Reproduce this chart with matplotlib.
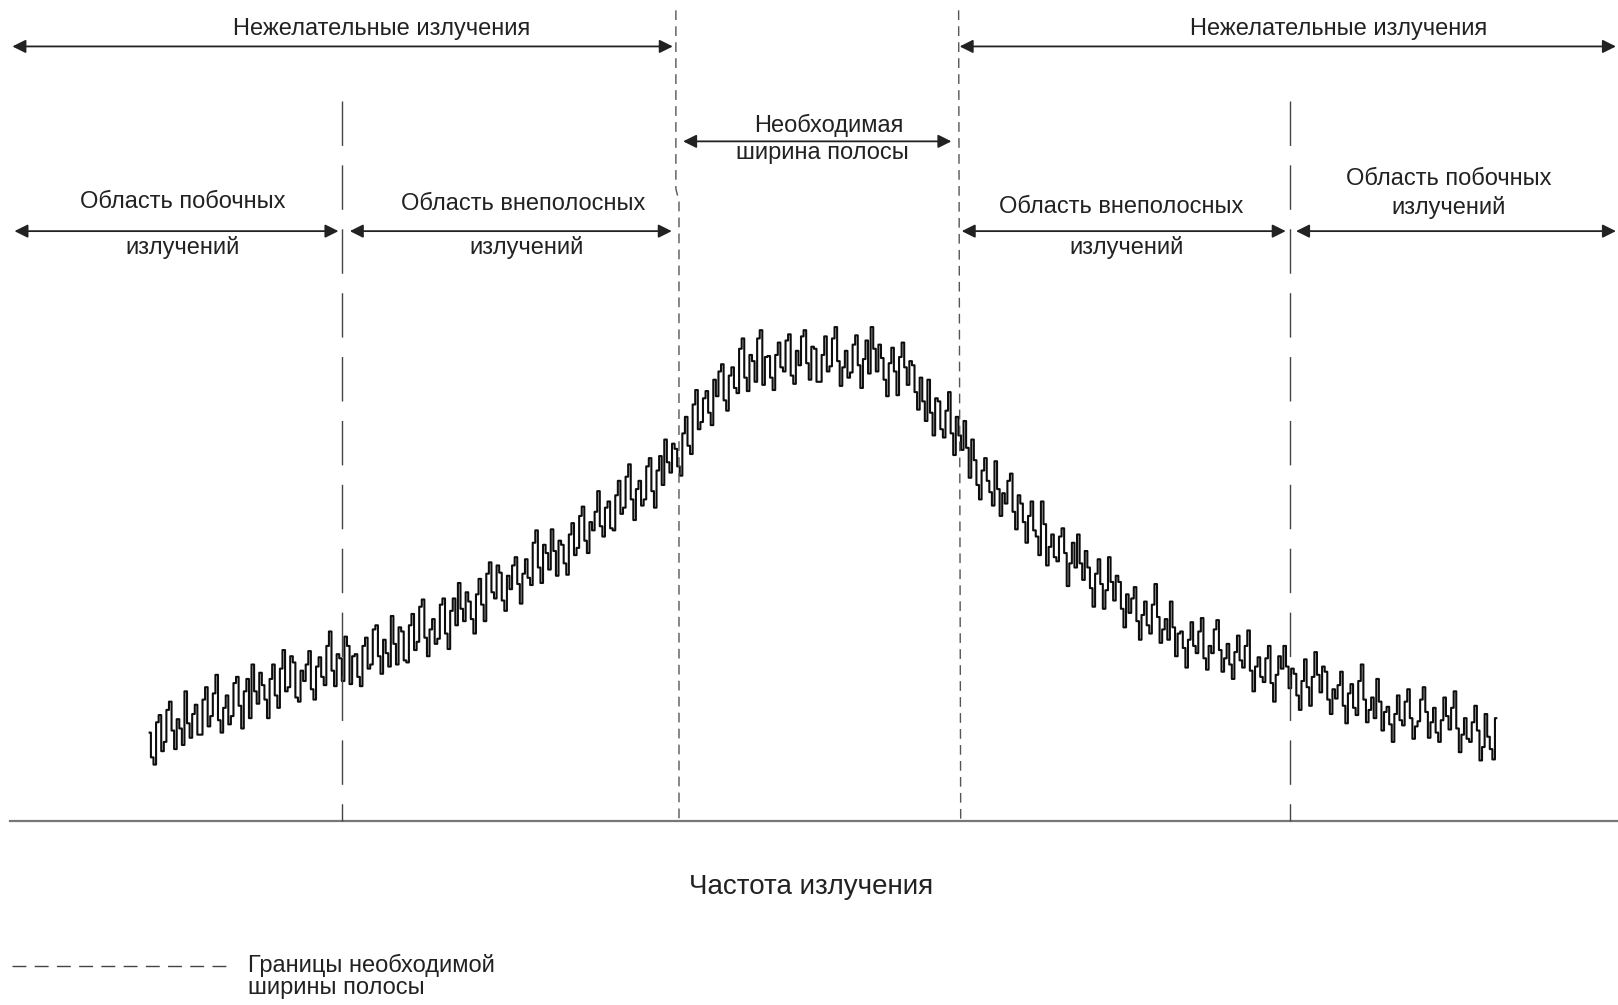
import numpy as np
import matplotlib
matplotlib.use("Agg")
import matplotlib.pyplot as plt

plt.rcParams['font.family'] = ['Liberation Sans', 'DejaVu Sans']

# spectrum samples: frequency grid (px along the axis) and level above the baseline
freq_start, freq_step = 145, 2.5
level = [
    86, 62, 55, 96, 103, 68, 77, 108, 116, 88, 70, 99, 90, 74, 126, 95, 81, 104, 113, 84,
    84, 118, 130, 92, 102, 124, 142, 98, 86, 110, 122, 94, 102, 134, 140, 112, 90, 126, 138, 100,
    152, 126, 114, 144, 132, 118, 100, 138, 152, 122, 110, 148, 166, 126, 130, 160, 154, 120, 116, 146,
    136, 152, 165, 128, 118, 150, 159, 140, 132, 170, 184, 146, 131, 162, 158, 136, 179, 170, 133, 160,
    162, 140, 131, 170, 178, 148, 152, 186, 190, 160, 143, 176, 163, 150, 199, 172, 152, 188, 184, 156,
    154, 190, 201, 166, 174, 208, 215, 178, 160, 186, 196, 172, 177, 210, 216, 182, 167, 204, 216, 190,
    231, 206, 194, 222, 213, 196, 182, 220, 235, 210, 194, 240, 251, 222, 216, 248, 241, 214, 204, 238,
    225, 248, 256, 230, 211, 240, 254, 236, 229, 270, 282, 246, 231, 268, 260, 244, 283, 262, 238, 272,
    268, 250, 239, 278, 289, 258, 265, 296, 305, 272, 260, 290, 282, 300, 320, 286, 276, 304, 310, 284,
    282, 316, 330, 298, 304, 334, 346, 312, 292, 322, 330, 306, 312, 344, 352, 320, 304, 340, 354, 326,
    370, 348, 338, 366, 361, 344, 335, 376, 392, 364, 356, 404, 418, 380, 387, 410, 417, 396, 384, 428,
    412, 436, 443, 408, 398, 432, 440, 420, 415, 458, 468, 430, 417, 452, 446, 426, 468, 476, 423, 450,
    451, 430, 418, 452, 464, 440, 436, 466, 472, 432, 424, 456, 442, 470, 476, 444, 428, 460, 458, 426,
    426, 452, 470, 436, 441, 468, 479, 446, 422, 440, 456, 430, 435, 462, 471, 442, 420, 448, 466, 434,
    479, 458, 436, 462, 449, 428, 412, 444, 459, 436, 413, 450, 464, 440, 423, 446, 442, 416, 399, 430,
    407, 388, 428, 396, 374, 410, 407, 380, 372, 398, 416, 376, 355, 392, 374, 360, 388, 362, 333, 370,
    350, 326, 312, 340, 352, 330, 319, 306, 349, 322, 296, 318, 308, 330, 337, 300, 283, 316, 308, 290,
    270, 296, 310, 282, 276, 258, 310, 288, 248, 266, 278, 256, 252, 276, 284, 260, 228, 250, 270, 246,
    278, 250, 234, 262, 246, 226, 208, 240, 254, 230, 206, 224, 256, 232, 214, 238, 232, 206, 188, 220,
    202, 216, 227, 194, 176, 200, 213, 190, 182, 210, 230, 198, 173, 186, 196, 176, 213, 188, 160, 182,
    184, 168, 149, 176, 193, 170, 163, 184, 197, 158, 147, 170, 163, 186, 195, 166, 145, 158, 172, 152,
    138, 164, 180, 156, 149, 170, 185, 146, 126, 150, 159, 140, 135, 158, 170, 134, 116, 142, 160, 148,
    170, 150, 129, 148, 143, 122, 108, 136, 157, 130, 112, 140, 164, 142, 125, 150, 145, 118, 104, 128,
    119, 132, 145, 112, 95, 124, 133, 110, 103, 136, 152, 118, 96, 108, 120, 100, 138, 116, 88, 106,
    111, 94, 77, 104, 122, 98, 93, 116, 128, 100, 80, 92, 97, 118, 130, 106, 81, 96, 110, 86,
    77, 98, 120, 102, 89, 110, 126, 90, 67, 84, 100, 80, 77, 96, 112, 88, 59, 72, 104, 82,
    70, 60, 100,
]
freq = freq_start + freq_step * np.arange(len(level))

# band boundaries (x positions)
band_left_top, band_left_bottom = 655, 658
band_right = 930
oob_left, oob_right = 331, 1250

fig = plt.figure(figsize=(16.18, 10.05), dpi=100)
ax = fig.add_axes([0, 0, 1, 1])
ax.set_xlim(0, 1568)
ax.set_ylim(-178, 796)
ax.axis('off')

# spectrum trace
ax.plot(freq, level, drawstyle='steps-mid', color='#0d0d0d', lw=1.5)

# frequency axis
ax.plot([10, 1568], [0, 0], color='#777777', lw=1.6)

# boundaries of necessary bandwidth (short dashes)
dash_kw = dict(color='#555555', lw=1.0, dashes=(7, 4.5))
ax.plot([band_left_top, band_left_top, band_left_bottom, band_left_bottom],
        [786, 613, 601, 0], **dash_kw)
ax.plot([band_right - 1, band_right + 1], [786, 0], **dash_kw)

# boundaries between out-of-band and spurious domains (long dashes)
for xb in (oob_left, oob_right):
    ax.plot([xb, xb], [698, 0], color='#444444', lw=1.0, dashes=(32, 14))

def arrow(x0, x1, y):
    ax.annotate('', xy=(x1, y), xytext=(x0, y),
                arrowprops=dict(arrowstyle='<|-|>', color='#222222', lw=1.3,
                                mutation_scale=20, shrinkA=0, shrinkB=0))

arrow(12, 652, 751)
arrow(930, 1566, 751)
arrow(662, 922, 659)
arrow(14, 328, 572)
arrow(339, 651, 572)
arrow(932, 1246, 572)
arrow(1256, 1566, 572)

fs = 17
txt = dict(ha='center', va='center', fontsize=fs, color='#222222')
ax.text(370, 768, 'Нежелательные излучения', **txt)
ax.text(1297, 768, 'Нежелательные излучения', **txt)
ax.text(803, 674, 'Необходимая', **txt)
ax.text(797, 648, 'ширина полосы', **txt)
ax.text(177, 600, 'Область побочных', **txt)
ax.text(177, 556, 'излучений', **txt)
ax.text(507, 598, 'Область внеполосных', **txt)
ax.text(510, 556, 'излучений', **txt)
ax.text(1087, 595, 'Область внеполосных', **txt)
ax.text(1092, 556, 'излучений', **txt)
ax.text(1404, 623, 'Область побочных', **txt)
ax.text(1404, 595, 'излучений', **txt)

ax.text(786, -64, 'Частота излучения', ha='center', va='center',
        fontsize=20, color='#222222')

# legend
ax.plot([12, 222], [-140, -140], color='#444444', lw=1.0, dashes=(10, 6))
ax.text(240, -140, 'Границы необходимой', ha='left', va='center', fontsize=fs, color='#222222')
ax.text(240, -162, 'ширины полосы', ha='left', va='center', fontsize=fs, color='#222222')

fig.savefig('out.png', dpi=100)
